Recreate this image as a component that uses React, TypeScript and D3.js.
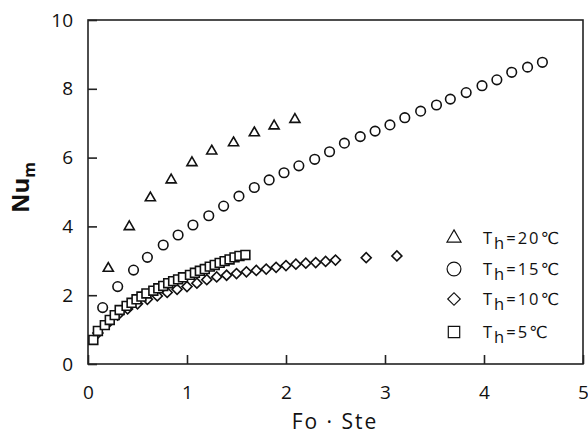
import React, { useEffect, useRef } from 'react';
import * as d3 from 'd3';

// T_h = 20 C (triangles)
const triX = [0.205, 0.417, 0.63, 0.84, 1.05, 1.25, 1.47, 1.68, 1.88, 2.09];
const triY = [2.78, 3.99, 4.83, 5.35, 5.85, 6.19, 6.43, 6.72, 6.92, 7.11];

// T_h = 15 C (circles)
const circX = [0.148, 0.30, 0.46, 0.60, 0.76, 0.91, 1.06, 1.22, 1.37, 1.525, 1.68, 1.83, 1.98, 2.13, 2.29,
  2.44, 2.59, 2.75, 2.90, 3.05, 3.20, 3.36, 3.52, 3.66, 3.82, 3.98, 4.13, 4.28, 4.44, 4.59];
const circY = [1.64, 2.25, 2.73, 3.10, 3.46, 3.75, 4.04, 4.31, 4.59, 4.88, 5.13, 5.35, 5.56, 5.76, 5.95,
  6.17, 6.42, 6.61, 6.77, 6.95, 7.16, 7.35, 7.53, 7.70, 7.89, 8.09, 8.26, 8.48, 8.63, 8.77];

// T_h = 10 C (diamonds)
const diaX = [0.1, 0.2, 0.3, 0.4, 0.5, 0.6, 0.7, 0.8, 0.9, 1.0, 1.1, 1.2, 1.3, 1.4, 1.5, 1.6, 1.7, 1.8,
  1.9, 2.0, 2.1, 2.2, 2.3, 2.4, 2.5, 2.81, 3.12];
const diaY = [0.9, 1.18, 1.42, 1.6, 1.75, 1.88, 1.98, 2.08, 2.17, 2.25, 2.35, 2.45, 2.53, 2.58, 2.63, 2.68,
  2.72, 2.76, 2.81, 2.86, 2.90, 2.93, 2.95, 2.98, 3.02, 3.09, 3.14];

// T_h = 5 C (squares)
const sqX = [0.054, 0.10, 0.17, 0.22, 0.27, 0.32, 0.39, 0.44, 0.49, 0.54, 0.59, 0.66, 0.71, 0.76, 0.81,
  0.86, 0.91, 0.96, 1.03, 1.08, 1.13, 1.18, 1.23, 1.28, 1.33, 1.38, 1.43, 1.48, 1.53, 1.59];
const sqY = [0.70, 0.96, 1.13, 1.28, 1.42, 1.57, 1.69, 1.78, 1.88, 1.96, 2.05, 2.13, 2.20, 2.27, 2.35,
  2.41, 2.46, 2.52, 2.59, 2.65, 2.71, 2.76, 2.83, 2.88, 2.94, 2.99, 3.04, 3.10, 3.14, 3.17];

const xTicks = [0, 1, 2, 3, 4, 5];
const yTicks = [0, 2, 4, 6, 8, 10];
const legendTemps = ['20', '15', '10', '5'];

const FONT = '"Open Sans", "DejaVu Sans", sans-serif';

const App = () => {
  const svgRef = useRef(null);

  useEffect(() => {
    const svg = d3.select(svgRef.current);
    svg.selectAll('*').remove();

    const left = 88, right = 583, top = 20, bottom = 364;
    const x = d3.scaleLinear().domain([0, 5]).range([left, right]);
    const y = d3.scaleLinear().domain([0, 10]).range([bottom, top]);

    // frame
    svg.append('rect')
      .attr('x', left).attr('y', top)
      .attr('width', right - left).attr('height', bottom - top)
      .attr('fill', 'none').attr('stroke', '#222').attr('stroke-width', 1.6);

    // axes with inward ticks
    const xAxis = svg.append('g')
      .attr('transform', `translate(0,${bottom})`)
      .call(d3.axisBottom(x).tickValues(xTicks).tickFormat(d3.format('d'))
        .tickSizeInner(-9).tickSizeOuter(0).tickPadding(24));
    const yAxis = svg.append('g')
      .attr('transform', `translate(${left},0)`)
      .call(d3.axisLeft(y).tickValues(yTicks).tickFormat(d3.format('d'))
        .tickSizeInner(-9).tickSizeOuter(0).tickPadding(24));

    [xAxis, yAxis].forEach(g => {
      g.select('.domain').remove();
      g.selectAll('line').attr('stroke', '#222').attr('stroke-width', 1.6);
      g.selectAll('text')
        .attr('font-family', FONT)
        .attr('font-size', 19)
        .attr('fill', '#111');
    });
    xAxis.selectAll('text').attr('dy', 0).attr('y', 35);
    yAxis.selectAll('text').attr('x', -15);

    const sym = (type, size) => d3.symbol().type(type).size(size)();

    const drawSeries = (xs, ys, path, rotate = 0) => {
      svg.append('g')
        .selectAll('path')
        .data(xs.map((v, i) => [v, ys[i]]))
        .enter()
        .append('path')
        .attr('d', path)
        .attr('transform', d => `translate(${x(d[0])},${y(d[1])}) rotate(${rotate})`)
        .attr('fill', '#fff')
        .attr('stroke', '#111')
        .attr('stroke-width', 1.6);
    };

    drawSeries(triX, triY, sym(d3.symbolTriangle, 44));
    drawSeries(circX, circY, sym(d3.symbolCircle, 72));
    drawSeries(diaX, diaY, sym(d3.symbolSquare, 50), 45);
    drawSeries(sqX, sqY, sym(d3.symbolSquare, 78));

    // legend
    const legendSyms = [
      { d: sym(d3.symbolTriangle, 85), r: 0 },
      { d: sym(d3.symbolCircle, 150), r: 0 },
      { d: sym(d3.symbolSquare, 78), r: 45 },
      { d: sym(d3.symbolSquare, 130), r: 0 },
    ];
    const legendY = [238, 269, 299, 332];
    legendTemps.forEach((t, i) => {
      svg.append('path')
        .attr('d', legendSyms[i].d)
        .attr('transform', `translate(454,${legendY[i]}) rotate(${legendSyms[i].r})`)
        .attr('fill', '#fff').attr('stroke', '#111').attr('stroke-width', 1.2);
      const txt = svg.append('text')
        .attr('x', 483).attr('y', legendY[i] + 6)
        .attr('font-family', FONT).attr('font-size', 16.5)
        .attr('letter-spacing', 2)
        .attr('fill', '#111');
      txt.append('tspan').text('T');
      txt.append('tspan').attr('dy', 5).text('h');
      txt.append('tspan').attr('dy', -5).text(`=${t}℃`);
    });

    // axis titles
    svg.append('text')
      .attr('x', 335).attr('y', 429)
      .attr('text-anchor', 'middle')
      .attr('font-family', FONT).attr('font-size', 21)
      .attr('letter-spacing', 2)
      .attr('fill', '#111')
      .text('Fo · Ste');

    const yl = svg.append('text')
      .attr('transform', 'translate(29,213) rotate(-90)')
      .attr('font-family', FONT).attr('font-weight', 'bold')
      .attr('font-size', 24)
      .attr('fill', '#111');
    yl.append('tspan').text('Nu');
    yl.append('tspan').attr('dy', 6).attr('font-size', 16).text('m');
  }, []);

  return (
    <svg
      ref={svgRef}
      width={588}
      height={435}
      style={{ position: 'absolute', left: 0, top: 0, background: '#fff' }}
    />
  );
};

export default App;
